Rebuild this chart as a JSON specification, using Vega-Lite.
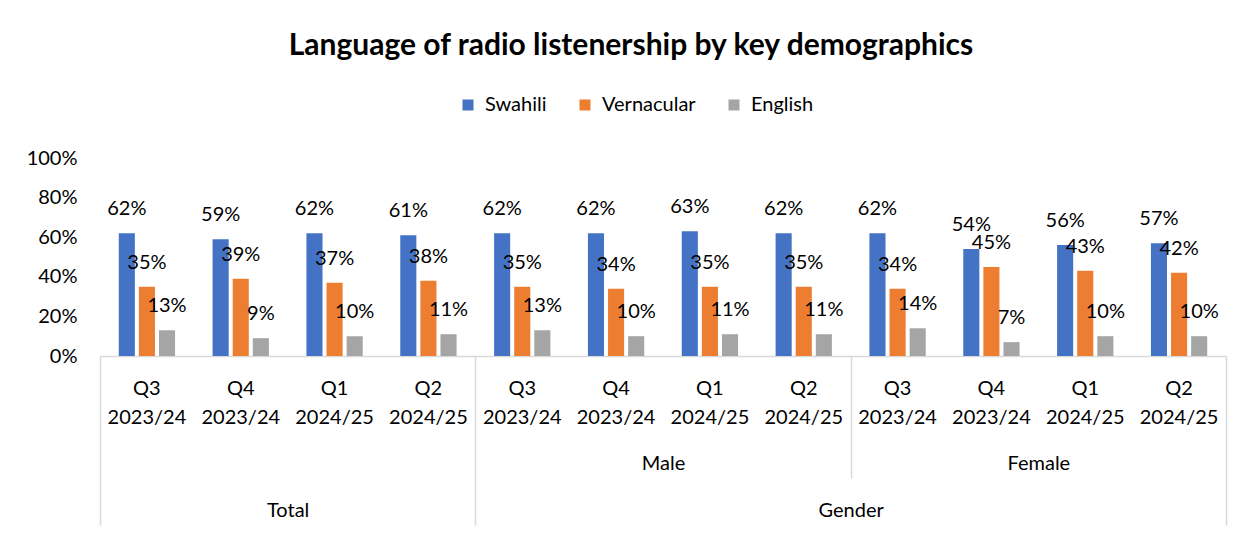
{
  "$schema": "https://vega.github.io/schema/vega-lite/v6.json",
  "width": 1126,
  "height": 198,
  "autosize": {"type": "none"},
  "padding": {"left": 100, "top": 158, "right": 26, "bottom": 180},
  "background": "white",
  "config": {
    "font": "Lato",
    "view": {"stroke": null},
    "axis": {"labelFont": "Lato", "labelColor": "black", "labelFontSize": 20, "grid": false}
  },
  "title": {
    "text": "Language of radio listenership by key demographics",
    "font": "Lato",
    "fontSize": 30,
    "fontWeight": "bold",
    "color": "black",
    "anchor": "middle",
    "frame": "group",
    "dx": -32,
    "offset": 34
  },
  "data": {
    "values": [
      {"cat": "Total|Q3 2023/24", "lang": "Swahili", "v": 0.62},
      {"cat": "Total|Q3 2023/24", "lang": "Vernacular", "v": 0.35},
      {"cat": "Total|Q3 2023/24", "lang": "English", "v": 0.13},
      {"cat": "Total|Q4 2023/24", "lang": "Swahili", "v": 0.59},
      {"cat": "Total|Q4 2023/24", "lang": "Vernacular", "v": 0.39},
      {"cat": "Total|Q4 2023/24", "lang": "English", "v": 0.09},
      {"cat": "Total|Q1 2024/25", "lang": "Swahili", "v": 0.62},
      {"cat": "Total|Q1 2024/25", "lang": "Vernacular", "v": 0.37},
      {"cat": "Total|Q1 2024/25", "lang": "English", "v": 0.10},
      {"cat": "Total|Q2 2024/25", "lang": "Swahili", "v": 0.61},
      {"cat": "Total|Q2 2024/25", "lang": "Vernacular", "v": 0.38},
      {"cat": "Total|Q2 2024/25", "lang": "English", "v": 0.11},
      {"cat": "Male|Q3 2023/24", "lang": "Swahili", "v": 0.62},
      {"cat": "Male|Q3 2023/24", "lang": "Vernacular", "v": 0.35},
      {"cat": "Male|Q3 2023/24", "lang": "English", "v": 0.13},
      {"cat": "Male|Q4 2023/24", "lang": "Swahili", "v": 0.62},
      {"cat": "Male|Q4 2023/24", "lang": "Vernacular", "v": 0.34},
      {"cat": "Male|Q4 2023/24", "lang": "English", "v": 0.10},
      {"cat": "Male|Q1 2024/25", "lang": "Swahili", "v": 0.63},
      {"cat": "Male|Q1 2024/25", "lang": "Vernacular", "v": 0.35},
      {"cat": "Male|Q1 2024/25", "lang": "English", "v": 0.11},
      {"cat": "Male|Q2 2024/25", "lang": "Swahili", "v": 0.62},
      {"cat": "Male|Q2 2024/25", "lang": "Vernacular", "v": 0.35},
      {"cat": "Male|Q2 2024/25", "lang": "English", "v": 0.11},
      {"cat": "Female|Q3 2023/24", "lang": "Swahili", "v": 0.62},
      {"cat": "Female|Q3 2023/24", "lang": "Vernacular", "v": 0.34},
      {"cat": "Female|Q3 2023/24", "lang": "English", "v": 0.14},
      {"cat": "Female|Q4 2023/24", "lang": "Swahili", "v": 0.54},
      {"cat": "Female|Q4 2023/24", "lang": "Vernacular", "v": 0.45},
      {"cat": "Female|Q4 2023/24", "lang": "English", "v": 0.07},
      {"cat": "Female|Q1 2024/25", "lang": "Swahili", "v": 0.56},
      {"cat": "Female|Q1 2024/25", "lang": "Vernacular", "v": 0.43},
      {"cat": "Female|Q1 2024/25", "lang": "English", "v": 0.10},
      {"cat": "Female|Q2 2024/25", "lang": "Swahili", "v": 0.57},
      {"cat": "Female|Q2 2024/25", "lang": "Vernacular", "v": 0.42},
      {"cat": "Female|Q2 2024/25", "lang": "English", "v": 0.10}
    ]
  },
  "layer": [
    {
      "encoding": {
        "x": {
          "field": "cat", "type": "nominal", "sort": null,
          "scale": {"paddingInner": 0.4, "paddingOuter": 0.2},
          "axis": {
            "title": null, "orient": "bottom",
            "labelExpr": "split(split(datum.value, '|')[1], ' ')",
            "ticks": false, "tickSize": 0,
            "domainColor": "#D9D9D9", "domainWidth": 1.5,
            "labelAngle": 0, "labelLineHeight": 29, "labelPadding": 22,
            "labelOverlap": false, "labelBaseline": "top"
          }
        },
        "xOffset": {
          "field": "lang", "type": "nominal", "sort": ["Swahili", "Vernacular", "English"],
          "scale": {"paddingInner": 0.2, "paddingOuter": 0}
        },
        "y": {
          "field": "v", "type": "quantitative",
          "scale": {"domain": [0, 1], "nice": false},
          "axis": {
            "title": null, "format": ".0%", "values": [0, 0.2, 0.4, 0.6, 0.8, 1],
            "domain": false, "ticks": false, "tickSize": 0, "labelPadding": 23, "grid": false
          }
        }
      },
      "layer": [
        {
          "mark": {"type": "bar"},
          "encoding": {
            "color": {
              "field": "lang", "type": "nominal",
              "scale": {"domain": ["Swahili", "Vernacular", "English"], "range": ["#4472C4", "#ED7D31", "#A5A5A5"]},
              "legend": {
                "title": null, "orient": "none", "legendX": 358, "legendY": -63,
                "direction": "horizontal", "symbolType": "square", "symbolSize": 121,
                "symbolStrokeWidth": 0, "labelFontSize": 20, "labelFont": "Lato", "labelColor": "black",
                "columnPadding": 28, "labelOffset": 7
              }
            }
          }
        },
        {
          "mark": {"type": "text", "fontSize": 20, "font": "Lato", "color": "black", "baseline": "middle", "dy": -24},
          "encoding": {
            "text": {"field": "v", "type": "quantitative", "format": ".0%"}
          }
        }
      ]
    },
    {
      "mark": {"type": "point", "opacity": 0},
      "encoding": {
        "x": {
          "field": "cat", "type": "nominal", "sort": null,
          "scale": {"paddingInner": 0, "paddingOuter": 0},
          "axis": {
            "title": null, "orient": "bottom", "values": ["Male|Q1 2024/25", "Female|Q1 2024/25"],
            "tickOffset": -46.917, "ticks": false, "tickSize": 0, "domain": false,
            "labelExpr": "split(datum.value, '|')[0]", "labelAngle": 0,
            "labelBaseline": "middle", "labelPadding": 107, "labelOverlap": false
          }
        }
      }
    },
    {
      "mark": {"type": "point", "opacity": 0},
      "encoding": {
        "x": {
          "field": "cat", "type": "nominal", "sort": null,
          "scale": {"paddingInner": 0, "paddingOuter": 0},
          "axis": {
            "title": null, "orient": "bottom", "values": ["Total|Q1 2024/25", "Female|Q3 2023/24"],
            "tickOffset": -46.917, "ticks": false, "tickSize": 0, "domain": false,
            "labelExpr": "datum.value == 'Total|Q1 2024/25' ? 'Total' : 'Gender'", "labelAngle": 0,
            "labelBaseline": "middle", "labelPadding": 154, "labelOverlap": false
          }
        }
      }
    },
    {
      "mark": {"type": "point", "opacity": 0},
      "encoding": {
        "x": {
          "field": "cat", "type": "nominal", "sort": null,
          "scale": {"paddingInner": 0, "paddingOuter": 0},
          "axis": {
            "title": null, "orient": "bottom", "values": ["Total|Q3 2023/24", "Male|Q3 2023/24"],
            "tickOffset": -46.917, "ticks": true, "tickSize": 169, "tickColor": "#D9D9D9", "tickWidth": 1.5,
            "domain": false, "labels": false
          }
        }
      }
    },
    {
      "mark": {"type": "point", "opacity": 0},
      "encoding": {
        "x": {
          "field": "cat", "type": "nominal", "sort": null,
          "scale": {"paddingInner": 0, "paddingOuter": 0},
          "axis": {
            "title": null, "orient": "bottom", "values": ["Female|Q2 2024/25"],
            "tickOffset": 46.917, "ticks": true, "tickSize": 169, "tickColor": "#D9D9D9", "tickWidth": 1.5,
            "domain": false, "labels": false
          }
        }
      }
    },
    {
      "mark": {"type": "point", "opacity": 0},
      "encoding": {
        "x": {
          "field": "cat", "type": "nominal", "sort": null,
          "scale": {"paddingInner": 0, "paddingOuter": 0},
          "axis": {
            "title": null, "orient": "bottom", "values": ["Female|Q3 2023/24"],
            "tickOffset": -46.917, "ticks": true, "tickSize": 122, "tickColor": "#D9D9D9", "tickWidth": 1.5,
            "domain": false, "labels": false
          }
        }
      }
    }
  ],
  "resolve": {"scale": {"x": "independent"}, "axis": {"x": "independent"}}
}
